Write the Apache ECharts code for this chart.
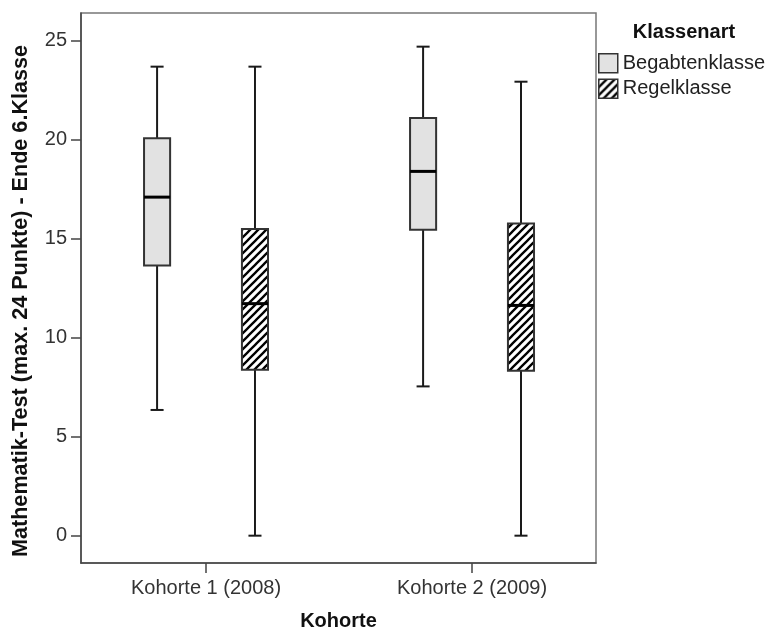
<!DOCTYPE html>
<html>
<head>
<meta charset="utf-8">
<script src="https://cdn.jsdelivr.net/npm/echarts@6/dist/echarts.min.js"></script>
<style>
  html, body { margin: 0; padding: 0; background: #fff; }
  #chart { width: 768px; height: 630px; }
</style>
</head>
<body>
<div id="chart"></div>
<script>
// Cohorts on the x axis
const categories = ['Kohorte 1 (2008)', 'Kohorte 2 (2009)'];
// Class types (legend)
const groups = ['Begabtenklasse', 'Regelklasse'];
// Box statistics per cohort: [min, Q1, median, Q3, max]
const begabtenStats = [
  [6.35, 13.65, 17.1, 20.08, 23.69],
  [7.54, 15.45, 18.4, 21.1, 24.7]
];
const regelStats = [
  [0, 8.38, 11.72, 15.49, 23.69],
  [0, 8.33, 11.63, 15.77, 22.93]
];
// Y axis tick values
const yTicks = [0, 5, 10, 15, 20, 25];

const FONT = '"Liberation Sans", Arial, sans-serif';

// Diagonal hatch tile for the Regelklasse boxes
function makeHatch() {
  const s = 8;
  const c = document.createElement('canvas');
  c.width = s; c.height = s;
  const g = c.getContext('2d');
  g.fillStyle = '#ffffff';
  g.fillRect(0, 0, s, s);
  g.strokeStyle = '#000000';
  g.lineWidth = 2.3;
  g.beginPath();
  for (const k of [-s, 0, s]) {
    g.moveTo(k - 1, s + 1);
    g.lineTo(k + s + 1, -1);
  }
  g.stroke();
  return c;
}
const hatch = { image: makeHatch(), repeat: 'repeat' };
const boxFills = ['#e2e2e2', hatch];

const BOX_W = 0.098;     // box width in x-axis units
const OFFSET = 0.184;    // distance of each box from cohort centre

function boxRenderer(offset, fill) {
  return function (params, api) {
    const x = api.value(0) + offset;
    const cx = api.coord([x, 0])[0];
    const half = api.size([BOX_W, 0])[0] / 2;
    const capHalf = half / 2;
    const y = (k) => api.coord([x, api.value(k)])[1];
    const yMin = y(1), yQ1 = y(2), yMed = y(3), yQ3 = y(4), yMax = y(5);
    const line = { stroke: '#1a1a1a', lineWidth: 2 };
    return {
      type: 'group',
      children: [
        { type: 'line', shape: { x1: cx, y1: yMax, x2: cx, y2: yQ3 }, style: line },
        { type: 'line', shape: { x1: cx, y1: yQ1, x2: cx, y2: yMin }, style: line },
        { type: 'line', shape: { x1: cx - capHalf, y1: yMax, x2: cx + capHalf, y2: yMax }, style: line },
        { type: 'line', shape: { x1: cx - capHalf, y1: yMin, x2: cx + capHalf, y2: yMin }, style: line },
        { type: 'rect', shape: { x: cx - half, y: yQ3, width: half * 2, height: yQ1 - yQ3 },
          style: { fill: fill, stroke: '#333', lineWidth: 2 } },
        { type: 'line', shape: { x1: cx - half, y1: yMed, x2: cx + half, y2: yMed },
          style: { stroke: '#000', lineWidth: 3 } }
      ]
    };
  };
}

function toData(stats) {
  return stats.map((s, i) => [i].concat(s));
}

const chart = echarts.init(document.getElementById('chart'), null, { renderer: 'canvas' });

chart.setOption({
  animation: false,
  backgroundColor: '#ffffff',
  grid: {
    left: 81, top: 13, right: 172, bottom: 67,
    outerBoundsMode: 'none',
    containLabel: false,
    show: true, borderColor: '#777', borderWidth: 1.5, backgroundColor: 'transparent'
  },
  xAxis: {
    type: 'value',
    min: -0.47,
    max: 1.466,
    name: 'Kohorte',
    nameLocation: 'middle',
    nameGap: 48,
    nameTextStyle: { fontFamily: FONT, fontSize: 20, fontWeight: 'bold', color: '#111' },
    splitLine: { show: false },
    axisLine: { show: true, onZero: false, lineStyle: { color: '#444', width: 1.5 } },
    axisTick: { show: true, length: 10, customValues: [0, 1], lineStyle: { color: '#444', width: 1.5 } },
    axisLabel: {
      customValues: [0, 1],
      margin: 15,
      fontFamily: FONT, fontSize: 20, color: '#333',
      formatter: (v) => categories[Math.round(v)]
    }
  },
  yAxis: {
    type: 'value',
    min: -1.38,
    max: 26.4,
    splitLine: { show: false },
    axisLine: { show: true, onZero: false, lineStyle: { color: '#444', width: 1.5 } },
    axisTick: { show: true, length: 10, customValues: yTicks, lineStyle: { color: '#444', width: 1.5 } },
    axisLabel: {
      customValues: yTicks,
      margin: 14,
      fontFamily: FONT, fontSize: 20, color: '#333'
    }
  },
  legend: {
    orient: 'vertical',
    left: 598,
    top: 53,
    padding: 0,
    itemWidth: 19,
    itemHeight: 19,
    itemGap: 5,
    icon: 'rect',
    selectedMode: false,
    textStyle: { fontFamily: FONT, fontSize: 20, color: '#222', padding: [0, 0, 0, 0] },
    data: groups.map((g, i) => ({
      name: g,
      itemStyle: { color: boxFills[i], borderColor: '#333', borderWidth: 1.5 }
    }))
  },
  graphic: [
    {
      type: 'text',
      x: 684, y: 32,
      style: {
        text: 'Klassenart', fontFamily: FONT, fontSize: 20, fontWeight: 'bold',
        fill: '#111', align: 'center', verticalAlign: 'middle'
      }
    },
    {
      type: 'text',
      x: 21, y: 301,
      rotation: Math.PI / 2,
      style: {
        text: 'Mathematik-Test (max. 24 Punkte) - Ende 6.Klasse', fontFamily: FONT,
        fontSize: 21.6, fontWeight: 'bold', fill: '#111', align: 'center', verticalAlign: 'middle'
      }
    }
  ],
  series: [
    {
      name: groups[0],
      type: 'custom',
      renderItem: boxRenderer(-OFFSET, boxFills[0]),
      encode: { x: 0, y: [1, 2, 3, 4, 5] },
      itemStyle: { color: boxFills[0], borderColor: '#333' },
      data: toData(begabtenStats)
    },
    {
      name: groups[1],
      type: 'custom',
      renderItem: boxRenderer(OFFSET, boxFills[1]),
      encode: { x: 0, y: [1, 2, 3, 4, 5] },
      itemStyle: { color: boxFills[1], borderColor: '#333' },
      data: toData(regelStats)
    }
  ]
});
</script>
</body>
</html>
